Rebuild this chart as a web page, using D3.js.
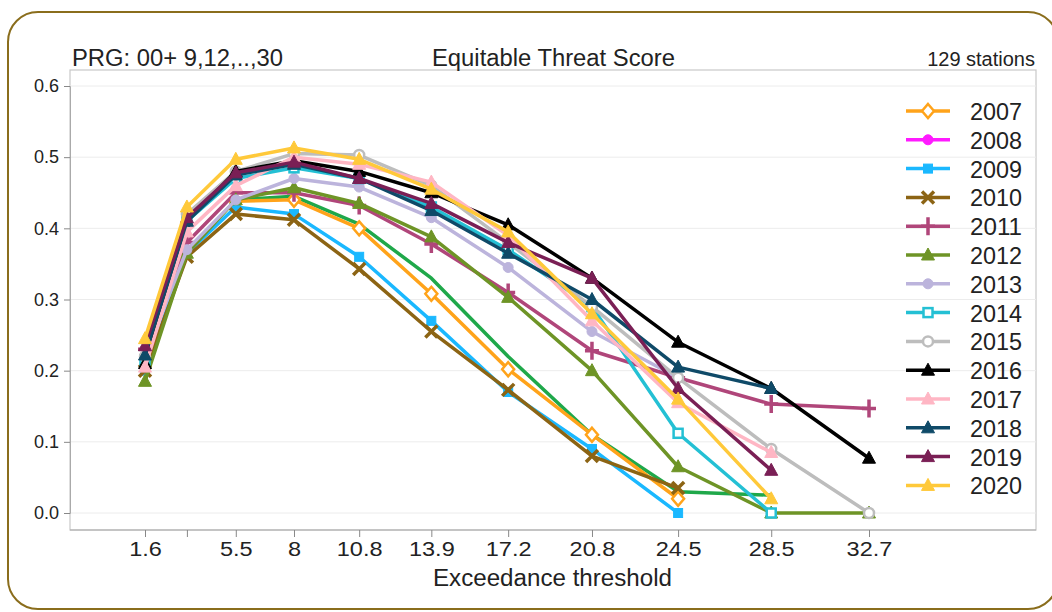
<!DOCTYPE html>
<html>
<head>
<meta charset="utf-8">
<script src="https://cdn.jsdelivr.net/npm/d3@7"></script>
<style>
	body { margin: 0; background: #fff; }
	text { font-family: "Liberation Sans", Arial, sans-serif; fill: #222; }
</style>
</head>
<body>
<div id="content"></div>
<script>
// Exceedance thresholds (x values)
var thresholds = [1.6, 3.4, 5.5, 8, 10.8, 13.9, 17.2, 20.8, 24.5, 28.5, 32.7];
var tickLabels = ["1.6", "", "5.5", "8", "10.8", "13.9", "17.2", "20.8", "24.5", "28.5", "32.7"];
var yTicks = [0, 0.1, 0.2, 0.3, 0.4, 0.5, 0.6];

// ETS per year, aligned with thresholds (null = no value)
var years = ["2007", "2008", "2009", "2010", "2011", "2012", "2013", "2014", "2015", "2016", "2017", "2018", "2019", "2020"];
var colors = ["#ffa31a", "#ff1aff", "#1ab8ff", "#8c6414", "#b0467a", "#6e9426", "#bcb4dc", "#24c0d4", "#bdbdbd", "#000000", "#ffb6c4", "#0f4a68", "#7a1f55", "#ffc93a"];
var symbols = ["diamondO", "circle", "square", "x", "plus", "triangle", "circle", "squareO", "circleO", "triangle", "triangle", "triangle", "triangle", "triangle"];

var ets2007 = [null, null, 0.438, 0.44, 0.40, 0.308, 0.202, 0.11, 0.02, null, null];
var ets2008 = [null, null, null, null, null, null, null, null, null, null, null];
var ets2009 = [0.20, 0.365, 0.43, 0.42, 0.36, 0.27, 0.17, 0.09, 0.0, null, null];
var ets2010 = [0.20, 0.36, 0.42, 0.412, 0.343, 0.255, 0.173, 0.08, 0.035, null, null];
var ets2011 = [0.23, 0.38, 0.45, 0.45, 0.432, 0.378, 0.31, 0.228, 0.19, 0.153, 0.147];
var ets2012 = [0.185, 0.365, 0.44, 0.457, 0.435, 0.388, 0.303, 0.20, 0.065, 0.0, 0.0];
var ets2013 = [0.22, 0.37, 0.44, 0.47, 0.458, 0.415, 0.345, 0.255, 0.19, null, null];
var ets2014 = [0.215, 0.41, 0.47, 0.485, 0.47, 0.43, 0.37, 0.29, 0.112, 0.0, null];
var ets2015 = [0.22, 0.42, 0.48, 0.505, 0.503, 0.46, 0.38, 0.29, 0.19, 0.09, 0.0];
var ets2016 = [0.21, 0.41, 0.48, 0.495, 0.48, 0.45, 0.405, 0.33, 0.24, 0.175, 0.077];
var ets2017 = [0.205, 0.395, 0.46, 0.50, 0.49, 0.465, 0.39, 0.27, 0.155, 0.085, null];
var ets2018 = [0.222, 0.41, 0.475, 0.49, 0.47, 0.425, 0.365, 0.30, 0.205, 0.175, null];
var ets2019 = [0.235, 0.415, 0.478, 0.493, 0.47, 0.435, 0.38, 0.33, 0.175, 0.06, null];
var ets2020 = [0.245, 0.43, 0.497, 0.513, 0.497, 0.455, 0.395, 0.28, 0.16, 0.02, null];
// green line drawn in the plot but absent from the legend
var etsUnlisted = [null, null, 0.44, 0.445, 0.406, 0.33, 0.22, 0.11, 0.03, 0.025, null];

var etsByYear = [ets2007, ets2008, ets2009, ets2010, ets2011, ets2012, ets2013, ets2014, ets2015, ets2016, ets2017, ets2018, ets2019, ets2020];

function main() {
	var width = 1052, height = 612;
	var svg = d3.select("#content").append("svg")
		.attr("width", width)
		.attr("height", height);

	// outer rounded border
	svg.append("rect")
		.attr("x", 8).attr("y", 12)
		.attr("width", 1050).attr("height", 597)
		.attr("rx", 30)
		.attr("fill", "none")
		.attr("stroke", "#8a6d1c")
		.attr("stroke-width", 2);

	var x = d3.scaleLinear().domain([1.6, 32.7]).range([145, 869]);
	var y = d3.scaleLinear().domain([0, 0.6]).range([513, 86]);

	var frame = { left: 70, top: 70, right: 1036, bottom: 530 };

	// plot frame
	svg.append("rect")
		.attr("x", frame.left).attr("y", frame.top)
		.attr("width", frame.right - frame.left)
		.attr("height", frame.bottom - frame.top)
		.attr("fill", "none")
		.attr("stroke", "#c8c8c8")
		.attr("stroke-width", 1.2);

	// gridlines
	svg.append("g").selectAll("line")
		.data(yTicks)
		.enter().append("line")
		.attr("x1", frame.left).attr("x2", frame.right)
		.attr("y1", function (d) { return y(d); })
		.attr("y2", function (d) { return y(d); })
		.attr("stroke", "#ececec")
		.attr("stroke-width", 1);

	// y axis
	var yAxis = svg.append("g")
		.attr("transform", "translate(" + frame.left + ",0)")
		.call(d3.axisLeft(y).tickValues(yTicks).tickFormat(d3.format(".1f")).tickSize(6).tickPadding(5));
	yAxis.select(".domain").attr("stroke", "#aaa");
	yAxis.selectAll(".tick line").attr("stroke", "#888");
	yAxis.selectAll("text").style("font-size", "18px").attr("fill", "#222");

	// x axis
	var xAxis = svg.append("g")
		.attr("transform", "translate(0," + frame.bottom + ")")
		.call(d3.axisBottom(x).tickValues(thresholds)
			.tickFormat(function (d, i) { return tickLabels[i]; })
			.tickSize(7).tickPadding(4));
	xAxis.select(".domain").attr("d", "M" + frame.left + ",0H" + frame.right).attr("stroke", "#aaa");
	xAxis.selectAll(".tick line").attr("stroke", "#888");
	xAxis.selectAll("text").style("font-size", "21px").attr("fill", "#222")
		.attr("transform", "scale(1.12,1)");

	// titles
	svg.append("text").attr("x", 72).attr("y", 66).style("font-size", "23px")
		.attr("textLength", 211).attr("lengthAdjust", "spacingAndGlyphs")
		.text("PRG: 00+ 9,12,..,30");
	svg.append("text").attr("x", 432).attr("y", 66).style("font-size", "23px")
		.attr("textLength", 243).attr("lengthAdjust", "spacingAndGlyphs")
		.text("Equitable Threat Score");
	svg.append("text").attr("x", 1035).attr("y", 66).attr("text-anchor", "end").style("font-size", "20px")
		.text("129 stations");
	svg.append("text").attr("x", 433).attr("y", 586).style("font-size", "23px")
		.attr("textLength", 239).attr("lengthAdjust", "spacingAndGlyphs")
		.text("Exceedance threshold");

	var line = d3.line()
		.defined(function (d) { return d[1] != null; })
		.x(function (d) { return x(d[0]); })
		.y(function (d) { return y(d[1]); });

	function pairs(values) {
		return thresholds.map(function (t, i) { return [t, values[i]]; });
	}

	var series = svg.append("g");

	// unlisted green series first
	series.append("path")
		.attr("d", line(pairs(etsUnlisted)))
		.attr("fill", "none")
		.attr("stroke", "#1fa84a")
		.attr("stroke-width", 3.5)
		.attr("stroke-linejoin", "round");

	for (var i = 0; i < years.length; i++) {
		var pts = pairs(etsByYear[i]).filter(function (d) { return d[1] != null; });
		var g = series.append("g");
		g.append("path")
			.attr("d", line(pts))
			.attr("fill", "none")
			.attr("stroke", colors[i])
			.attr("stroke-width", 3.5)
			.attr("stroke-linejoin", "round");
		pts.forEach(function (d) {
			drawMarker(g, symbols[i], colors[i], x(d[0]), y(d[1]));
		});
	}

	// legend
	var legend = svg.append("g");
	years.forEach(function (yr, i) {
		var ly = 111 + i * 28.8;
		legend.append("line")
			.attr("x1", 906).attr("x2", 950)
			.attr("y1", ly).attr("y2", ly)
			.attr("stroke", colors[i])
			.attr("stroke-width", 3.5);
		drawMarker(legend, symbols[i], colors[i], 928, ly);
		legend.append("text")
			.attr("x", 970).attr("y", ly + 9)
			.style("font-size", "24px")
			.attr("textLength", 52).attr("lengthAdjust", "spacingAndGlyphs")
			.text(yr);
	});
}

function drawMarker(g, sym, color, cx, cy) {
	var hollow = sym.slice(-1) == "O";
	var base = hollow ? sym.slice(0, -1) : sym;
	var shape;
	if (base == "diamond") {
		shape = g.append("path").attr("d", "M0,-7L6,0L0,7L-6,0Z");
	} else if (base == "circle") {
		shape = g.append("circle").attr("r", 5);
	} else if (base == "square") {
		shape = g.append("rect").attr("x", -4.5).attr("y", -4.5).attr("width", 9).attr("height", 9);
	} else if (base == "triangle") {
		shape = g.append("path").attr("d", "M0,-7L6.5,5L-6.5,5Z");
	} else if (base == "x") {
		shape = g.append("path").attr("d", "M-6,-6L6,6M-6,6L6,-6").attr("stroke-width", 3.5);
	} else if (base == "plus") {
		shape = g.append("path").attr("d", "M0,-9V9M-7,0H7").attr("stroke-width", 3.5);
	}
	if (base == "circle") shape.attr("cx", cx).attr("cy", cy);
	else shape.attr("transform", "translate(" + cx + "," + cy + ")");
	if (base == "x" || base == "plus") {
		shape.attr("fill", "none").attr("stroke", color);
	} else if (hollow) {
		shape.attr("fill", "#fff").attr("stroke", color).attr("stroke-width", 2.5);
	} else {
		shape.attr("fill", color).attr("stroke", color).attr("stroke-width", 1);
	}
}

(() => {
	main();
})()
</script>
</body>
</html>
